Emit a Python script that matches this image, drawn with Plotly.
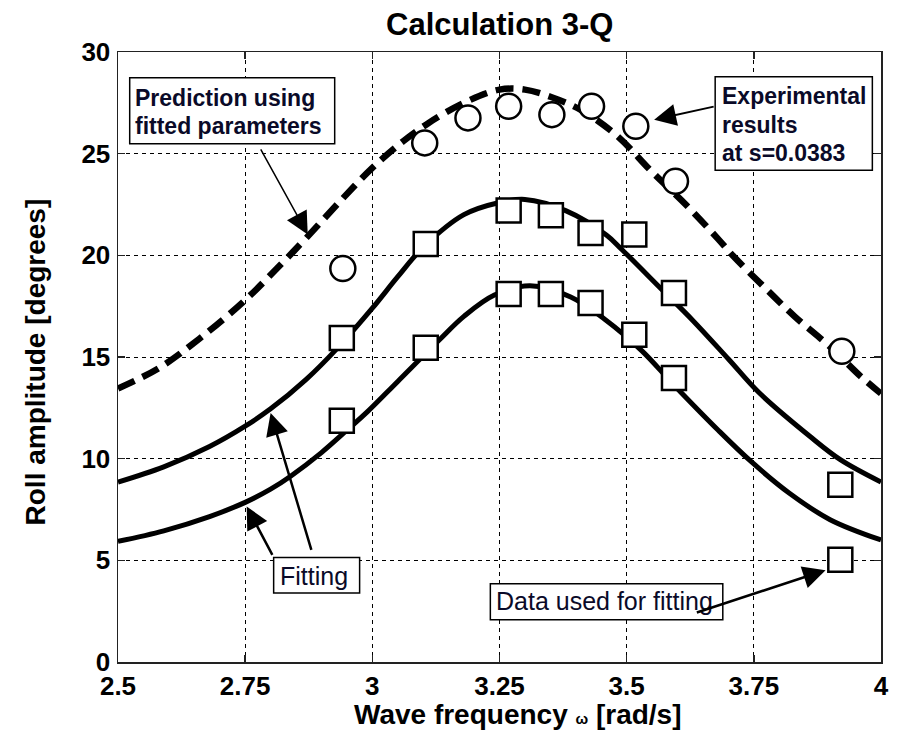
import plotly.graph_objects as go

# ---------------- data ----------------
omega_exp = [2.942, 3.103, 3.188, 3.268, 3.353, 3.431, 3.518, 3.596, 3.923]
roll_exp = [19.35, 25.53, 26.76, 27.33, 26.92, 27.33, 26.35, 23.64, 15.28]

omega_fit_data = [2.940, 3.105, 3.268, 3.351, 3.429, 3.515, 3.593, 3.920]
roll_data_upper = [15.94, 20.56, 22.21, 21.97, 21.10, 21.02, 18.15, 8.72]
roll_data_lower = [11.87, 15.45, 18.10, 18.10, 17.66, 16.10, 13.97, 5.03]

omega_pred = [2.50, 2.58, 2.66, 2.75, 2.82, 2.87, 2.94, 3.00, 3.06, 3.11, 3.18, 3.25,
              3.30, 3.35, 3.41, 3.48, 3.55, 3.62, 3.68, 3.71, 3.77, 3.83, 3.90, 3.96, 4.00]
roll_pred = [13.45, 14.45, 15.9, 17.8, 19.55, 20.85, 22.75, 24.3, 25.6, 26.5, 27.5, 28.15,
             28.15, 27.8, 27.15, 25.9, 24.1, 22.4, 20.8, 19.95, 18.45, 17.0, 15.5, 14.05, 13.2]

omega_fit1 = [2.50, 2.59, 2.68, 2.75, 2.80, 2.87, 2.93, 3.00, 3.05, 3.10, 3.18, 3.25,
              3.30, 3.38, 3.46, 3.49, 3.57, 3.63, 3.70, 3.76, 3.86, 3.92, 4.00]
roll_fit1 = [8.85, 9.6, 10.6, 11.6, 12.45, 13.9, 15.4, 17.4, 18.95, 20.4, 22.0, 22.6,
             22.75, 22.2, 21.0, 20.3, 18.3, 16.8, 14.9, 13.25, 11.1, 9.95, 8.85]

omega_fit2 = [2.50, 2.59, 2.68, 2.75, 2.80, 2.84, 2.90, 2.95, 2.99, 3.05, 3.13, 3.18,
              3.24, 3.31, 3.39, 3.46, 3.53, 3.59, 3.68, 3.745, 3.82, 3.90, 4.00]
roll_fit2 = [5.93, 6.45, 7.15, 7.85, 8.5, 9.15, 10.3, 11.4, 12.3, 13.8, 15.8, 17.0,
             18.05, 18.5, 17.95, 16.8, 15.3, 13.7, 11.4, 9.85, 8.3, 7.0, 6.0]

x_tickvals = [2.5, 2.75, 3, 3.25, 3.5, 3.75, 4]
x_ticktext = ["2.5", "2.75", "3", "3.25", "3.5", "3.75", "4"]
y_tickvals = [0, 5, 10, 15, 20, 25, 30]
y_ticktext = ["0", "5", "10", "15", "20", "25", "30"]

title_text = "Calculation 3-Q"
xlabel = "Wave frequency <span style='font-size:15px'>ω</span> [rad/s]"
ylabel = "Roll amplitude [degrees]"

FONT = "Arial, 'Liberation Sans', sans-serif"

fig = go.Figure()

fig.add_trace(go.Scatter(x=omega_pred, y=roll_pred, mode="lines", line_shape="spline",
                         line=dict(color="black", width=6.5, dash="18px,9px"), showlegend=False))
fig.add_trace(go.Scatter(x=omega_fit1, y=roll_fit1, mode="lines", line_shape="spline",
                         line=dict(color="black", width=5), showlegend=False))
fig.add_trace(go.Scatter(x=omega_fit2, y=roll_fit2, mode="lines", line_shape="spline",
                         line=dict(color="black", width=5), showlegend=False))

fig.add_trace(go.Scatter(x=omega_exp, y=roll_exp, mode="markers",
                         marker=dict(symbol="circle", size=25, color="white",
                                     line=dict(color="black", width=2.5)), showlegend=False))
for yy in (roll_data_upper, roll_data_lower):
    fig.add_trace(go.Scatter(x=omega_fit_data, y=yy, mode="markers",
                             marker=dict(symbol="square", size=24, color="white",
                                         line=dict(color="black", width=2.5)), showlegend=False))

axis_common = dict(
    showline=True, linecolor="#222", linewidth=1.5, mirror="ticks",
    ticks="inside", ticklen=7, tickwidth=1.5, tickcolor="#222",
    showgrid=True, gridcolor="black", gridwidth=1, griddash="4px,4px",
    zeroline=False,
    tickfont=dict(family=FONT, size=26, color="black", weight="bold"),
)

fig.update_xaxes(range=[2.5, 4], tickvals=x_tickvals, ticktext=x_ticktext,
                 ticklabelstandoff=0, **axis_common)
fig.update_yaxes(range=[0, 30], tickvals=y_tickvals, ticktext=y_ticktext,
                 ticklabelstandoff=1, **axis_common)

# text boxes (rectangles) drawn in data coordinates
boxes = [
    (2.523, 25.49, 2.926, 28.73),
    (3.674, 24.18, 3.983, 28.78),
    (2.806, 3.394, 2.975, 5.145),
    (3.232, 2.081, 3.689, 3.851),
]
shapes = []
for x0, y0, x1, y1 in boxes:
    shapes.append(dict(type="rect", xref="x", yref="y", x0=x0, y0=y0, x1=x1, y1=y1,
                       line=dict(color="black", width=1.5), fillcolor="white", layer="above"))

texts = [
    ("Prediction using", 2.529, 27.74, "bold", 23),
    ("fitted parameters", 2.529, 26.35, "bold", 23),
    ("Experimental", 3.684, 27.82, "bold", 23),
    ("results", 3.684, 26.43, "bold", 23),
    ("at s=0.0383", 3.684, 25.04, "bold", 23),
    ("Fitting", 2.815, 4.245, "normal", 25),
    ("Data used for fitting", 3.239, 2.98, "normal", 25),
]
annotations = []
for t, x, y, wgt, sz in texts:
    annotations.append(dict(text=t, x=x, y=y, xref="x", yref="y", showarrow=False,
                            xanchor="left", yanchor="middle",
                            font=dict(family=FONT, size=sz, color="#0a0a28", weight=wgt)))

arrows = [
    # (head_x, head_y, tail_x, tail_y, width, size)
    (2.873, 21.02, 2.779, 25.28, 1.5, 3.0),
    (3.554, 26.67, 3.674, 27.33, 2.0, 2.2),
    (2.800, 12.25, 2.881, 5.44, 2.5, 1.8),
    (2.753, 7.65, 2.805, 5.194, 2.5, 1.8),
    (3.891, 4.515, 3.635, 2.41, 2.5, 1.8),
]
for hx, hy, tx, ty, w, s in arrows:
    annotations.append(dict(text="", x=hx, y=hy, ax=tx, ay=ty, xref="x", yref="y",
                            axref="x", ayref="y", showarrow=True, arrowhead=2,
                            arrowwidth=w, arrowsize=s, arrowcolor="black",
                            standoff=0, startstandoff=0))

annotations.append(dict(text="<b>" + title_text + "</b>", x=0.5, y=1.0447, xref="paper",
                        yref="paper", showarrow=False, xanchor="center", yanchor="middle",
                        font=dict(family=FONT, size=31, color="black")))
annotations.append(dict(text="<b>" + xlabel + "</b>", x=0.5236, y=-0.086, xref="paper",
                        yref="paper", showarrow=False, xanchor="center", yanchor="middle",
                        font=dict(family=FONT, size=28, color="black")))
annotations.append(dict(text="<b>" + ylabel + "</b>", x=-0.108, y=0.492, xref="paper",
                        yref="paper", showarrow=False, xanchor="center", yanchor="middle",
                        textangle=-90, font=dict(family=FONT, size=28, color="black")))

fig.update_layout(
    width=899, height=736,
    margin=dict(l=118, r=10, t=52, b=74),
    paper_bgcolor="white", plot_bgcolor="white",
    shapes=shapes, annotations=annotations,
    showlegend=False,
)

fig.write_html("out.html",
               config={"displayModeBar": False, "staticPlot": True},
               post_script="document.body.style.margin='0';document.body.style.padding='0';"
                           "document.body.style.overflow='hidden';")
